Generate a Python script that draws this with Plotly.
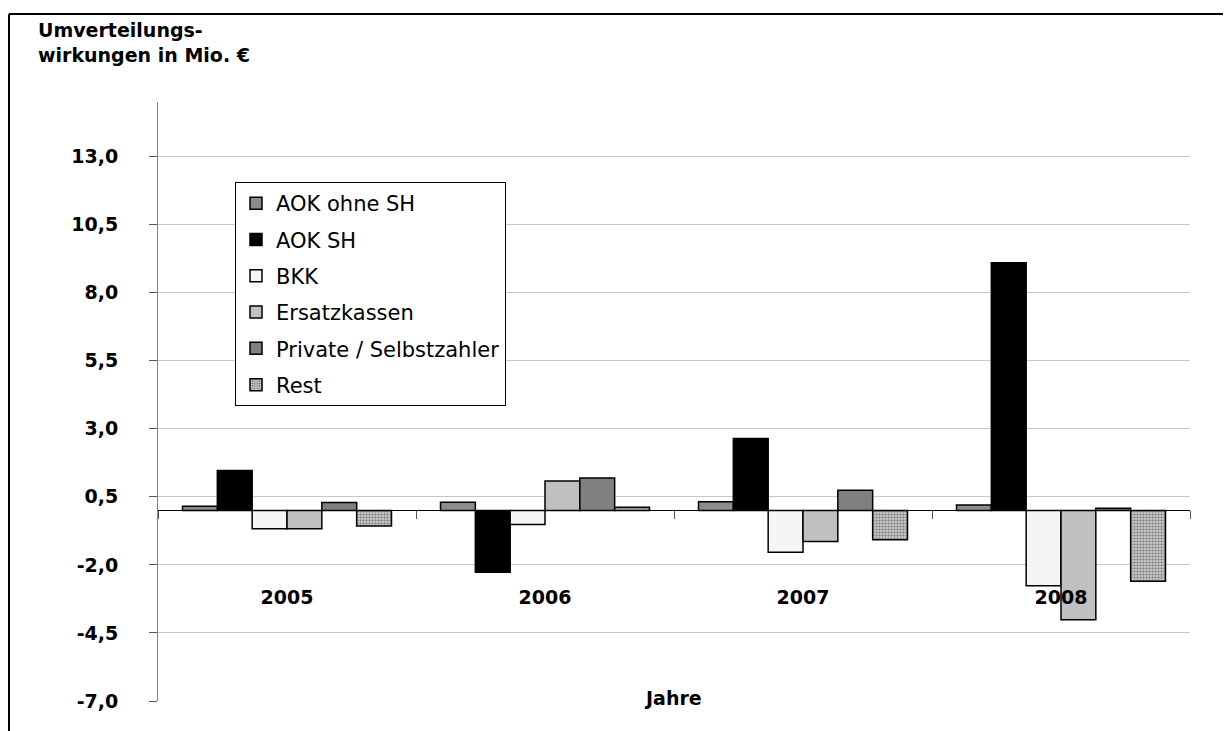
import plotly.graph_objects as go

# Daten (Umverteilungswirkungen in Mio. Euro)
jahre = ["2005", "2006", "2007", "2008"]
aok_ohne_sh = [0.15, 0.30, 0.32, 0.20]
aok_sh = [1.47, -2.27, 2.64, 9.10]
bkk = [-0.67, -0.52, -1.54, -2.77]
ersatzkassen = [-0.67, 1.08, -1.14, -4.02]
private = [0.29, 1.19, 0.74, 0.08]
rest = [-0.57, 0.12, -1.08, -2.60]

y_ticks = [-7.0, -4.5, -2.0, 0.5, 3.0, 5.5, 8.0, 10.5, 13.0]
y_ticktext = ["-7,0", "-4,5", "-2,0", "0,5", "3,0", "5,5", "8,0", "10,5", "13,0"]

# Seite hat 8px Body-Rand -> Figur etwas kleiner als das Fenster
OFF = 8
FW, FH = 1231 - OFF, 731 - OFF
L, R, T, B = 150, 41, 94, 30
FONT = "DejaVu Sans, Verdana, sans-serif"


def px(xw):
    # Fensterkoordinate -> paper
    return (xw - OFF - L) / (FW - L - R)


def py(yw):
    return (FH - B - (yw - OFF)) / (FH - T - B)


serien = [
    ("AOK ohne SH", aok_ohne_sh, dict(color="#8c8c8c")),
    ("AOK SH", aok_sh, dict(color="#000000")),
    ("BKK", bkk, dict(color="#f5f5f5")),
    ("Ersatzkassen", ersatzkassen, dict(color="#c0c0c0")),
    ("Private / Selbstzahler", private, dict(color="#808080")),
    ("Rest", rest, dict(color="#d0d0d0",
                        pattern=dict(shape=".", size=3, solidity=0.5,
                                     fgcolor="#333333", bgcolor="#d8d8d8"))),
]

fig = go.Figure()
for name, werte, marker in serien:
    fig.add_trace(go.Bar(
        x=jahre, y=werte, name=name, legendgroup=name,
        marker=dict(**marker, line=dict(color="#000000", width=1.5)),
    ))

bold = dict(family=FONT, size=19, color="black", weight="bold")

fig.update_layout(
    width=FW, height=FH,
    margin=dict(l=L, r=R, t=T, b=B),
    paper_bgcolor="white", plot_bgcolor="white",
    barmode="group", bargap=0.19, bargroupgap=0,
    font=dict(family=FONT, size=19, color="black"),
    showlegend=True,
    legend=dict(
        x=px(235), y=py(182), xanchor="left", yanchor="top",
        bgcolor="white", bordercolor="black", borderwidth=1,
        font=dict(family=FONT, size=21, color="black"),
        tracegroupgap=6, itemclick=False,
    ),
    xaxis=dict(
        type="category", anchor="free", position=7 / 22,
        showline=True, linecolor="black", linewidth=1,
        ticks="outside", tickson="boundaries", ticklen=8, tickcolor="#555555",
        showgrid=False, ticklabelstandoff=70, tickfont=bold,
    ),
    yaxis=dict(
        range=[-7, 15], tickvals=y_ticks, ticktext=y_ticktext,
        showline=True, linecolor="#808080", linewidth=1,
        ticks="outside", ticklen=8, tickcolor="#555555",
        showgrid=True, gridcolor="#c8c8c8", gridwidth=1, zeroline=False,
        ticklabelstandoff=27, tickfont=bold,
    ),
    annotations=[
        dict(text="Umverteilungs-<br>wirkungen in Mio. €", xref="paper", yref="paper",
             x=px(36), y=py(17), xanchor="left", yanchor="top", align="left",
             showarrow=False, font=bold),
        dict(text="Jahre", xref="paper", yref="paper", x=px(673), y=py(698),
             xanchor="center", yanchor="middle", showarrow=False, font=bold),
    ],
    shapes=[
        dict(type="line", xref="paper", yref="paper", x0=px(9), x1=px(1240),
             y0=py(14), y1=py(14), line=dict(color="black", width=2)),
        dict(type="line", xref="paper", yref="paper", x0=px(9), x1=px(9),
             y0=py(14), y1=py(740), line=dict(color="black", width=2)),
    ],
)

fig.write_html("out.html")
